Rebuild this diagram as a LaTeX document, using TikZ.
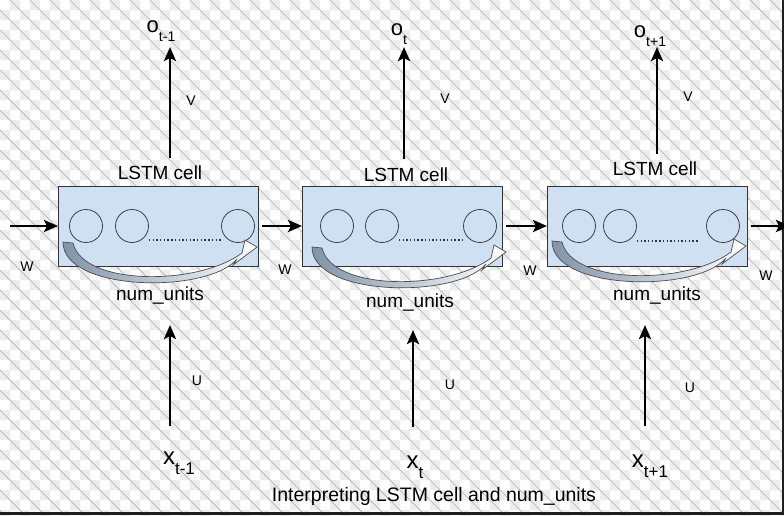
\documentclass[tikz,border=0pt]{standalone}
\usepackage{fontspec}
\setmainfont{Liberation Sans}
\usetikzlibrary{arrows.meta}

\definecolor{cellblue}{RGB}{207,224,242}
\definecolor{sweepgray}{RGB}{128,148,170}

\newcommand{\seqsub}[2][16]{\raisebox{-0.42em}{\fontsize{#1}{#1}\selectfont #2}}

\tikzset{
    cell/.style={rectangle, draw=black!80, fill=cellblue, line width=0.9pt,
        minimum width=200pt, minimum height=80pt, inner sep=0pt, outer sep=0pt},
    unit/.style={circle, draw=black!75, line width=0.8pt, minimum size=33pt, inner sep=0pt},
    flow/.style={line width=2.6pt, -{Stealth[length=14pt, width=12pt, inset=3pt]}},
    dots/.style={line width=1.4pt, dash pattern=on 1.4pt off 2.3pt, black!80},
    sweep/.style={draw=black!70, line width=0.7pt, left color=sweepgray, right color=white},
    celltext/.style={font=\fontsize{19}{21}\selectfont},
    wgt/.style={font=\fontsize{14}{16}\selectfont},
    outlbl/.style={font=\fontsize{22}{24}\selectfont, inner sep=0pt},
    inlbl/.style={font=\fontsize{24}{26}\selectfont, inner sep=0pt},
    pics/unitsweep/.style={code={
        \draw[sweep] (5,56) .. controls (5,106) and (150,108) .. (179,73)
            -- (175,79) -- (199,61) -- (187,54) -- (184,67)
            .. controls (140,100) and (25,100) .. (15,57) -- cycle;
    }}
}

\begin{document}
\begin{tikzpicture}[x=1pt, y=-1pt]
    % transparent backdrop
    \begin{scope}
        \clip (0,0) rectangle (784,515);
        \fill[white] (0,0) rectangle (784,515);
        \fill[black!7] \foreach \i in {0,20,...,780} {\foreach \j in {0,20,...,500} {
            (\i+10,\j) rectangle ++(10,10) (\i,\j+10) rectangle ++(10,10)}};
        \foreach \c in {-530,-510,...,790}
            \draw[black!30, line width=0.7pt] (\c,0) -- (\c+515,515);
        \fill[black!88] (0,511.5) rectangle (784,515);
        \fill[black!88] (781.5,0) rectangle (784,515);
    \end{scope}
    \useasboundingbox (0,0) rectangle (784,515);

    % cells
    \node[cell] at (158, 226) (cell1) {};
    \node[cell] at (402, 226) (cell2) {};
    \node[cell] at (647, 226) (cell3) {};

    \node[unit] at (86, 226) (u11) {};
    \node[unit] at (132, 226) (u12) {};
    \node[unit] at (238, 226) (u13) {};
    \node[unit] at (337, 226) (u21) {};
    \node[unit] at (382, 226) (u22) {};
    \node[unit] at (480, 226) (u23) {};
    \node[unit] at (579, 226) (u31) {};
    \node[unit] at (620, 226) (u32) {};
    \node[unit] at (723, 226) (u33) {};

    \draw[dots] ([yshift=-14pt]u12.east) -- ([yshift=-14pt]u13.west);
    \draw[dots] ([yshift=-14pt]u22.east) -- ([yshift=-14pt]u23.west);
    \draw[dots, shorten >=8pt] ([yshift=-15pt]u32.east) -- ([yshift=-15pt]u33.west);

    \pic at (cell1.north west) {unitsweep};
    \pic at ([xshift=5pt, yshift=-5pt]cell2.north west) {unitsweep};
    \pic at ([yshift=1pt]cell3.north west) {unitsweep};

    \node[celltext] at (160, 173) (name1) {LSTM cell};
    \node[celltext] at (406, 175) (name2) {LSTM cell};
    \node[celltext] at (655, 169) (name3) {LSTM cell};
    \node[celltext] at (160, 295) (size1) {num\_units};
    \node[celltext] at (410, 302) (size2) {num\_units};
    \node[celltext] at (657, 295) (size3) {num\_units};

    % recurrent links
    \coordinate (win) at (10, 226);
    \coordinate (wout) at (790, 226);
    \draw[flow] (win) -- (cell1.west);
    \draw[flow, shorten <=4pt] (cell1.east) -- (cell2.west);
    \draw[flow, shorten <=4pt] (cell2.east) -- (cell3.west);
    \draw[flow, shorten <=4pt] (cell3.east) -- (wout);
    \node[wgt] at (27, 267) (w0) {W};
    \node[wgt] at (285, 270) (w1) {W};
    \node[wgt] at (530, 271) (w2) {W};
    \node[wgt] at (766, 276) (w3) {W};

    % outputs
    \node[outlbl] at (161, 31) (ot1) {o\seqsub[14]{t-1}};
    \node[outlbl] at (399, 34) (ot2) {o\seqsub[14]{t}};
    \node[outlbl] at (650, 36) (ot3) {o\seqsub[14]{t+1}};
    \coordinate (otip1) at (170, 47);
    \coordinate (otip2) at (404, 47);
    \coordinate (otip3) at (657, 47);
    \draw[flow, shorten <=28pt] (cell1.north -| otip1) -- (otip1);
    \draw[flow, shorten <=27pt] (cell2.north -| otip2) -- (otip2);
    \draw[flow, shorten <=32pt] (cell3.north -| otip3) -- (otip3);
    \node[wgt] at (191, 101) (v1) {V};
    \node[wgt] at (445, 99) (v2) {V};
    \node[wgt] at (688, 97) (v3) {V};

    % inputs
    \node[inlbl] at (179, 463) (xt1) {x\seqsub[17]{t-1}};
    \node[inlbl] at (415, 467) (xt2) {x\seqsub[17]{t}};
    \node[inlbl] at (650, 466) (xt3) {x\seqsub[17]{t+1}};
    \coordinate (xtip1) at (170, 325);
    \coordinate (xtip2) at (413, 330);
    \coordinate (xtip3) at (645, 325);
    \draw[flow] (xtip1 |- 0, 426) -- (xtip1);
    \draw[flow] (xtip2 |- 0, 427) -- (xtip2);
    \draw[flow] (xtip3 |- 0, 426) -- (xtip3);
    \node[wgt] at (197, 381) (in1) {U};
    \node[wgt] at (450, 385) (in2) {U};
    \node[wgt] at (690, 388) (in3) {U};

    \node[celltext, font=\fontsize{19.5}{21}\selectfont] at (434, 496) (title) {Interpreting LSTM cell and num\_units};
\end{tikzpicture}
\end{document}
